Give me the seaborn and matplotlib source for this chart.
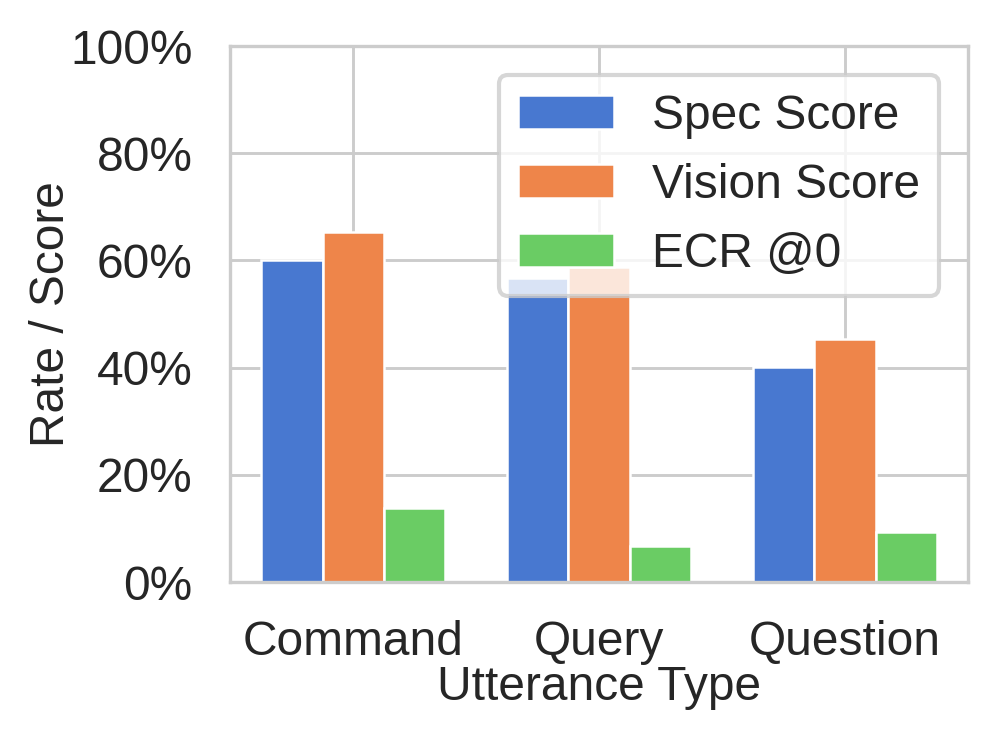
import matplotlib
matplotlib.use("Agg")
import matplotlib.pyplot as plt
import matplotlib.ticker as mticker
import pandas as pd
import seaborn as sns

utterance_types = ["Command", "Query", "Question"]
metrics = ["Spec Score", "Vision Score", "ECR @0"]
spec_score = [60.1, 56.7, 40.1]
vision_score = [65.3, 58.8, 45.3]
ecr_0 = [13.8, 6.7, 9.3]

rows = []
for i, t in enumerate(utterance_types):
    rows.append({"type": t, "metric": metrics[0], "value": spec_score[i]})
    rows.append({"type": t, "metric": metrics[1], "value": vision_score[i]})
    rows.append({"type": t, "metric": metrics[2], "value": ecr_0[i]})
df = pd.DataFrame(rows)

sns.set_theme(style="whitegrid", rc={"grid.linewidth": 0.7, "axes.linewidth": 0.8})
plt.rcParams["font.family"] = ["Liberation Sans", "DejaVu Sans"]

fig, ax = plt.subplots(figsize=(9.97 / 3, 7.36 / 3), dpi=300)
fig.subplots_adjust(left=0.231, right=0.971, top=0.9375, bottom=0.209)

sns.barplot(
    data=df, x="type", y="value", hue="metric", hue_order=metrics,
    order=utterance_types, palette="muted", saturation=1, width=0.75,
    edgecolor="white", linewidth=0.6, ax=ax,
)

ax.set_ylim(0, 100)
ax.set_xlim(-0.5, 2.5)
ax.xaxis.grid(True)
ax.set_axisbelow(True)
ax.yaxis.set_major_locator(mticker.MultipleLocator(20))
ax.yaxis.set_major_formatter(mticker.PercentFormatter(decimals=0))
ax.set_xlabel("Utterance Type", fontsize=11.5, labelpad=0)
ax.set_ylabel("Rate / Score", fontsize=11.5, labelpad=-1)
ax.tick_params(axis="both", labelsize=11.5, pad=3)
ax.legend(loc="upper right", fontsize=11.5, title=None, borderaxespad=0.6)

fig.savefig("out.png", dpi=300)
